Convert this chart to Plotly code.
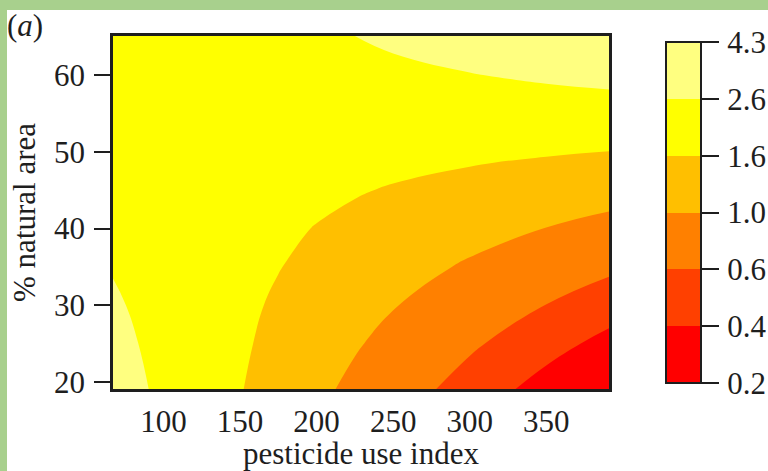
import numpy as np
import plotly.graph_objects as go

# Grid of the modelled response (pesticide use index x % natural area)
pesticide = [67, 100, 125, 150, 175, 200, 225, 250, 300, 350, 391]
natural_area = [19.05, 25, 30, 35, 40, 45, 50, 55, 60, 65.15]
response = [
    [3.12, 2.41, 1.98, 1.63, 1.34, 1.10, 0.908, 0.747, 0.506, 0.342, 0.249],
    [2.89, 2.34, 1.99, 1.69, 1.44, 1.22, 1.04, 0.885, 0.640, 0.463, 0.355],
    [2.72, 2.28, 1.99, 1.74, 1.52, 1.33, 1.17, 1.02, 0.781, 0.597, 0.480],
    [2.55, 2.22, 2.00, 1.80, 1.62, 1.45, 1.31, 1.18, 0.952, 0.770, 0.648],
    [2.40, 2.16, 2.00, 1.85, 1.71, 1.58, 1.47, 1.36, 1.16, 0.993, 0.874],
    [2.25, 2.11, 2.01, 1.91, 1.82, 1.73, 1.64, 1.56, 1.41, 1.28, 1.18],
    [2.11, 2.05, 2.01, 1.97, 1.92, 1.88, 1.84, 1.80, 1.73, 1.65, 1.59],
    [1.99, 2.00, 2.01, 2.03, 2.04, 2.05, 2.06, 2.08, 2.10, 2.13, 2.15],
    [1.87, 1.95, 2.02, 2.09, 2.16, 2.24, 2.31, 2.40, 2.56, 2.75, 2.90],
    [1.75, 1.90, 2.02, 2.16, 2.30, 2.44, 2.60, 2.77, 3.15, 3.57, 3.96],
]

# Contour break points and their colours (heat palette, low to high)
levels = [0.2, 0.4, 0.6, 1.0, 1.6, 2.6, 4.3]
level_labels = ["0.2", "0.4", "0.6", "1.0", "1.6", "2.6", "4.3"]
band_colors = ["#FF0000", "#FF4000", "#FF8000", "#FFBF00", "#FFFF00", "#FFFF80"]

x_ticks = [100, 150, 200, 250, 300, 350]
y_ticks = [20, 30, 40, 50, 60]

SERIF = "Liberation Serif"
FS = 31
INK = "#1e1e1e"
GREEN = "#a8d08d"

log_response = np.log(np.array(response))

n_bands = len(band_colors)
step_scale = []
for i, c in enumerate(band_colors):
    step_scale.append([i / n_bands, c])
    step_scale.append([(i + 1) / n_bands, c])

W, H = 768, 471
ML, MR, MT, MB = 113, 159, 36, 82
plot_w = W - ML - MR
plot_h = H - MT - MB


def px_x(px):
    return (px - ML) / plot_w


def px_y(py):
    return (H - MB - py) / plot_h


fig = go.Figure()

# One filled region per break (the shaded side of a "<" constraint is the
# part above the break), stacked from the lowest break to the highest
for lower, color in zip(levels[:-1], band_colors):
    fig.add_trace(go.Contour(
        x=pesticide, y=natural_area, z=log_response,
        contours=dict(type="constraint", operation="<", value=float(np.log(lower))),
        fillcolor=color, line=dict(width=0, color=color, smoothing=1.3),
        showscale=False, hoverinfo="skip", showlegend=False,
    ))

# Colour key; a hair space keeps the labels a little clear of the tick marks
fig.add_trace(go.Scatter(
    x=[pesticide[0]], y=[natural_area[0]], mode="markers", hoverinfo="skip",
    showlegend=False,
    marker=dict(
        size=0.1, opacity=0, color=[0], cmin=0, cmax=len(levels) - 1,
        colorscale=step_scale, showscale=True,
        colorbar=dict(
            thickness=35, thicknessmode="pixels", len=341, lenmode="pixels",
            x=px_x(666), xanchor="left", y=0.5, yanchor="middle",
            xpad=0, ypad=0, outlinewidth=2, outlinecolor=INK, borderwidth=0,
            tickmode="array", tickvals=list(range(len(levels))),
            ticktext=["\u200a" + s for s in level_labels],
            ticks="outside", ticklen=17, tickwidth=2, tickcolor=INK,
            tickfont=dict(family=SERIF, size=FS, color=INK),
        ),
    ),
))

# Light green page edges
shapes = [
    dict(type="rect", xref="paper", yref="paper", x0=px_x(0), x1=px_x(W), y0=px_y(10), y1=px_y(0),
         fillcolor=GREEN, line=dict(width=0), layer="below"),
    dict(type="rect", xref="paper", yref="paper", x0=px_x(0), x1=px_x(7), y0=px_y(H), y1=px_y(0),
         fillcolor=GREEN, line=dict(width=0), layer="below"),
]

fig.update_layout(
    width=W, height=H,
    margin=dict(l=ML, r=MR, t=MT, b=MB, autoexpand=False),
    paper_bgcolor="white", plot_bgcolor="white",
    font=dict(family=SERIF, size=FS, color=INK),
    shapes=shapes,
    showlegend=False,
    annotations=[dict(
        text="(<i>a</i>)", xref="paper", yref="paper", x=px_x(5), y=px_y(25),
        xanchor="left", yanchor="middle", showarrow=False,
        font=dict(family=SERIF, size=FS, color=INK),
    )],
    xaxis=dict(
        range=[pesticide[0], pesticide[-1]], tickmode="array", tickvals=x_ticks,
        ticks="", showgrid=False, zeroline=False,
        showline=True, mirror=True, linewidth=2.5, linecolor=INK,
        tickfont=dict(family=SERIF, size=FS, color=INK), ticklabelstandoff=3,
        title=dict(text="pesticide use index", standoff=4,
                   font=dict(family=SERIF, size=FS, color=INK)),
    ),
    yaxis=dict(
        range=[natural_area[0], natural_area[-1]], tickmode="array", tickvals=y_ticks,
        ticks="outside", ticklen=16, tickwidth=2, tickcolor=INK,
        showgrid=False, zeroline=False,
        showline=True, mirror=True, linewidth=2.5, linecolor=INK,
        tickfont=dict(family=SERIF, size=FS, color=INK), ticklabelstandoff=3,
        title=dict(text="% natural area", standoff=10,
                   font=dict(family=SERIF, size=FS, color=INK)),
    ),
)

fig.write_html("out.html")
